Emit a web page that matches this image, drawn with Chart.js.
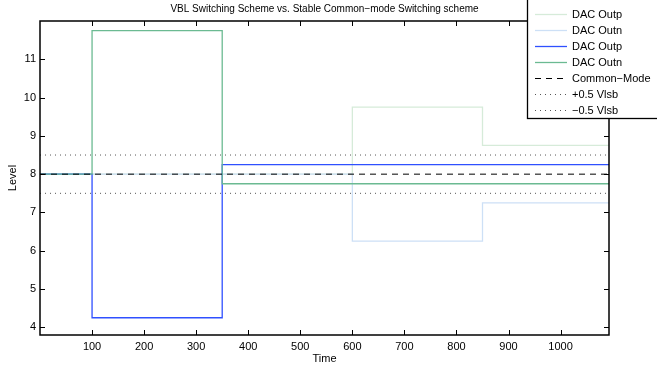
<!DOCTYPE html>
<html>
<head>
<meta charset="utf-8">
<script src="https://cdn.jsdelivr.net/npm/chart.js@4.4.0/dist/chart.umd.min.js"></script>
<style>
  html, body { margin: 0; padding: 0; background: #fff; }
  #wrap { position: relative; width: 657px; height: 369px; }
</style>
</head>
<body>
<div id="wrap"><canvas id="chart" width="657" height="369"></canvas></div>
<script>
// Step levels: each series holds its level between consecutive switch times
const stableEdges = [0, 600, 850, 1093];
const stableOutp = [8, 9.75, 8.75];
const stableOutn = [8, 6.25, 7.25];

const vblEdges = [0, 100, 350, 1093];
const vblOutp = [8, 4.25, 8.25];
const vblOutn = [8, 11.75, 7.75];

const commonMode = 8;
const halfLsbUp = 8.5;
const halfLsbDown = 7.5;

const xTicks = [100, 200, 300, 400, 500, 600, 700, 800, 900, 1000];
const yTicks = [4, 5, 6, 7, 8, 9, 10, 11];

const FONT = 'Liberation Sans, Arial, Helvetica, sans-serif';

function steps(edges, levels) {
  return edges.map((x, i) => ({ x, y: levels[Math.min(i, levels.length - 1)] }));
}

function flat(y) {
  return [{ x: 0, y }, { x: 1093, y }];
}

// later series are painted over earlier ones
const datasets = [
  { label: 'DAC Outp', data: steps(stableEdges, stableOutp), borderColor: '#d6ebd9', borderWidth: 1.3 },
  { label: 'DAC Outn', data: steps(stableEdges, stableOutn), borderColor: '#cde0f6', borderWidth: 1.3 },
  { label: 'DAC Outp', data: steps(vblEdges, vblOutp), borderColor: '#2f50ff', borderWidth: 1.3 },
  { label: 'DAC Outn', data: steps(vblEdges, vblOutn), borderColor: '#6bba92', borderWidth: 1.3 },
  { label: 'Common\u2212Mode', data: flat(commonMode), borderColor: '#000', borderWidth: 1, borderDash: [6, 5] },
  { label: '+0.5 Vlsb', data: flat(halfLsbUp), borderColor: '#555', borderWidth: 1, borderDash: [1, 4] },
  { label: '\u22120.5 Vlsb', data: flat(halfLsbDown), borderColor: '#555', borderWidth: 1, borderDash: [1, 4] }
].map((d, i, all) => ({ ...d, order: all.length - i, stepped: 'before', pointRadius: 0, fill: false }));

// box around the axes with inward ticks on every side, plus titles
const axesBox = {
  id: 'axesBox',
  afterDatasetsDraw(chart) {
    const { ctx, chartArea: a, scales } = chart;
    ctx.save();
    ctx.strokeStyle = '#000';
    ctx.lineWidth = 1;
    ctx.beginPath();
    xTicks.forEach(v => {
      const px = Math.round(scales.x.getPixelForValue(v)) + 0.5;
      ctx.moveTo(px, a.bottom); ctx.lineTo(px, a.bottom - 5);
      ctx.moveTo(px, a.top); ctx.lineTo(px, a.top + 5);
    });
    yTicks.forEach(v => {
      const py = Math.round(scales.y.getPixelForValue(v)) + 0.5;
      ctx.moveTo(a.left, py); ctx.lineTo(a.left + 5, py);
      ctx.moveTo(a.right, py); ctx.lineTo(a.right - 5, py);
    });
    ctx.stroke();
    ctx.lineWidth = 1.5;
    ctx.strokeRect(a.left, a.top, a.right - a.left, a.bottom - a.top);

    ctx.fillStyle = '#000';
    ctx.textAlign = 'center';
    ctx.textBaseline = 'middle';
    ctx.font = '10px ' + FONT;
    ctx.fillText('VBL Switching Scheme vs. Stable Common\u2212mode Switching scheme', (a.left + a.right) / 2, 9);
    ctx.font = '11px ' + FONT;
    ctx.fillText('Time', (a.left + a.right) / 2, 359);
    ctx.translate(13, (a.top + a.bottom) / 2);
    ctx.rotate(-Math.PI / 2);
    ctx.fillText('Level', 0, 0);
    ctx.restore();
  }
};

// legend box in the upper right corner, drawn from the dataset styles
const cornerLegend = {
  id: 'cornerLegend',
  afterDraw(chart) {
    const { ctx } = chart;
    ctx.save();
    ctx.fillStyle = '#fff';
    ctx.fillRect(527, -2, 140, 120);
    ctx.strokeStyle = '#000';
    ctx.lineWidth = 1.3;
    ctx.strokeRect(527.5, -2, 140, 120.5);
    ctx.font = '11px ' + FONT;
    ctx.textAlign = 'left';
    ctx.textBaseline = 'middle';
    chart.data.datasets.forEach((d, i) => {
      const y = 14.5 + i * 16;
      ctx.strokeStyle = d.borderColor;
      ctx.lineWidth = d.borderWidth;
      ctx.setLineDash(d.borderDash || []);
      ctx.beginPath();
      ctx.moveTo(535, y);
      ctx.lineTo(567, y);
      ctx.stroke();
      ctx.setLineDash([]);
      ctx.fillStyle = '#000';
      ctx.fillText(d.label, 572, y);
    });
    ctx.restore();
  }
};

new Chart(document.getElementById('chart'), {
  type: 'line',
  data: { datasets },
  options: {
    responsive: false,
    animation: false,
    layout: { padding: { top: 21, right: 48, left: 0, bottom: 0 } },
    plugins: { legend: { display: false }, tooltip: { enabled: false } },
    scales: {
      x: {
        type: 'linear',
        min: 0,
        max: 1093,
        grid: { display: false, drawTicks: false },
        border: { display: false },
        afterBuildTicks: s => { s.ticks = xTicks.map(value => ({ value })); },
        afterFit: s => { s.height = 34; },
        ticks: { color: '#000', font: { family: FONT, size: 11 }, padding: 5, maxRotation: 0, callback: v => String(v) }
      },
      y: {
        min: 3.8,
        max: 12,
        grid: { display: false, drawTicks: false },
        border: { display: false },
        afterBuildTicks: s => { s.ticks = yTicks.map(value => ({ value })); },
        afterFit: s => { s.width = 40; },
        ticks: { color: '#000', font: { family: FONT, size: 11 }, padding: 4 }
      }
    }
  },
  plugins: [axesBox, cornerLegend]
});
</script>
</body>
</html>
